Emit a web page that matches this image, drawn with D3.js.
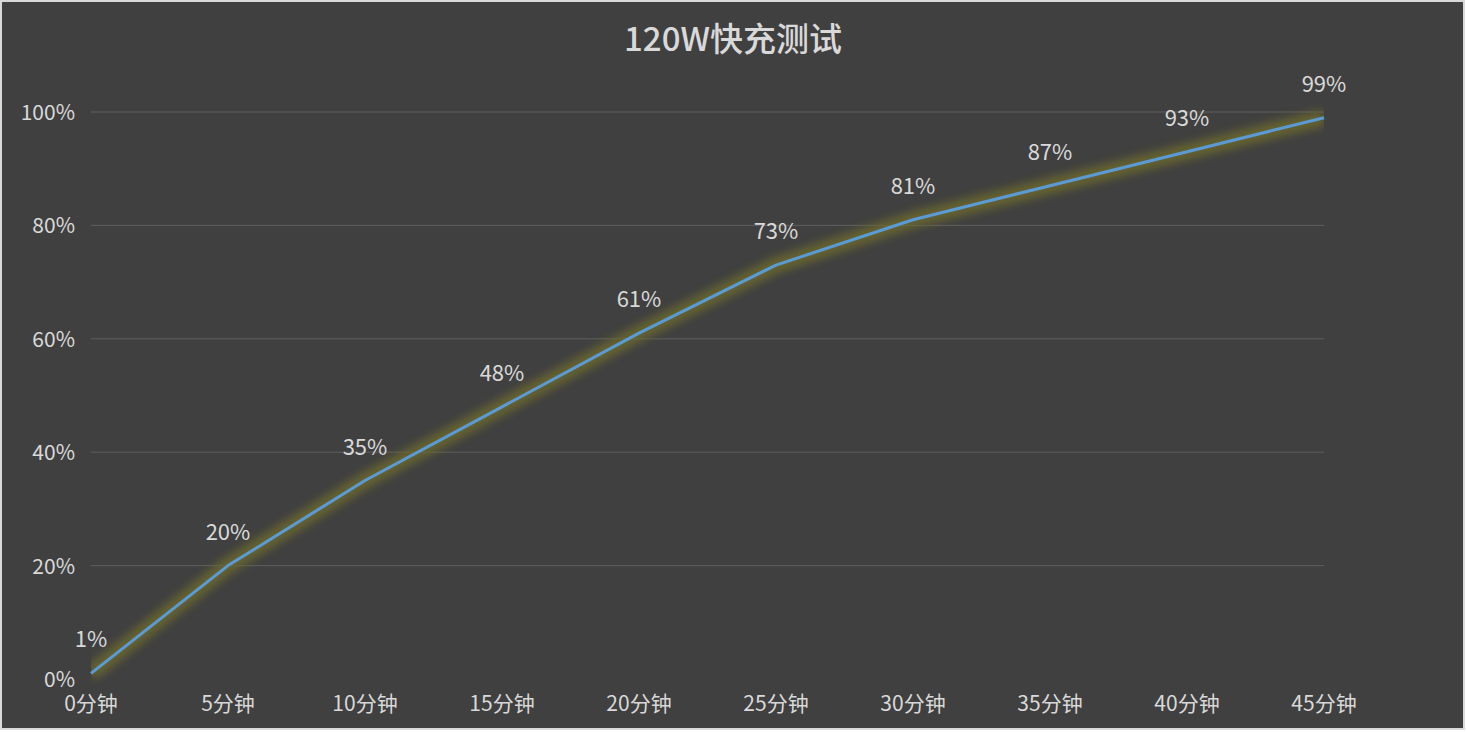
<!DOCTYPE html>
<html><head><meta charset="utf-8">
<script src="https://cdn.jsdelivr.net/npm/d3@7"></script>
<style>body{margin:0;background:#fff}svg{display:block}</style>
</head><body>
<script>
const categories=["0分钟","5分钟","10分钟","15分钟","20分钟","25分钟","30分钟","35分钟","40分钟","45分钟"];
const values=[1,20,35,48,61,73,81,87,93,99];
const yTicks=[0,20,40,60,80,100];
const W=1466,H=732;
const svg=d3.select("body").append("svg").attr("width",W).attr("height",H);
svg.append("rect").attr("x",1).attr("y",1).attr("width",W-3).attr("height",H-4).attr("fill","#404040").attr("stroke","#d9d9d9").attr("stroke-width",2);
const font="'Noto Sans CJK SC','Open Sans',sans-serif";
const x=d3.scalePoint().domain(categories).range([91,1324]);
const y=d3.scaleLinear().domain([0,100]).range([679,112]);
const defs=svg.append("defs");
const f=defs.append("filter").attr("id","glow").attr("x","-10%").attr("y","-10%").attr("width","120%").attr("height","120%");
f.append("feGaussianBlur").attr("stdDeviation",4);
defs.append("clipPath").attr("id","clip").append("rect").attr("x",91).attr("y",60).attr("width",1233).attr("height",630);
svg.append("text").attr("x",733).attr("y",51).attr("text-anchor","middle").attr("fill","#d9d9d9").attr("font-family",font).attr("font-weight",500).attr("font-size",33).text("120W快充测试");
svg.selectAll(".g").data(yTicks.filter(d=>d>0)).join("line").attr("x1",91).attr("x2",1324).attr("y1",d=>y(d)).attr("y2",d=>y(d)).attr("stroke","#5e5e5e").attr("stroke-width",1);
svg.selectAll(".yl").data(yTicks).join("text").attr("x",75).attr("y",d=>y(d)+8).attr("text-anchor","end").attr("fill","#d9d9d9").attr("font-family",font).attr("font-size",21).text(d=>d+"%");
svg.selectAll(".xl").data(categories).join("text").attr("x",d=>x(d)).attr("y",711).attr("text-anchor","middle").attr("fill","#d9d9d9").attr("font-family",font).attr("font-size",21).text(d=>d);
const line=d3.line().x((d,i)=>x(categories[i])).y(d=>y(d));
svg.append("path").datum(values).attr("d",line).attr("fill","none").attr("stroke","#6e6c2c").attr("stroke-opacity",0.8).attr("stroke-width",16).attr("filter","url(#glow)").attr("clip-path","url(#clip)");
svg.append("path").datum(values).attr("d",line).attr("fill","none").attr("stroke","#5b9bd5").attr("stroke-width",3).attr("stroke-linejoin","round");
svg.selectAll(".dl").data(values).join("text").attr("x",(d,i)=>x(categories[i])).attr("y",d=>y(d)-26).attr("text-anchor","middle").attr("fill","#d9d9d9").attr("font-family",font).attr("font-size",22).text(d=>d+"%");
</script>
</body></html>
